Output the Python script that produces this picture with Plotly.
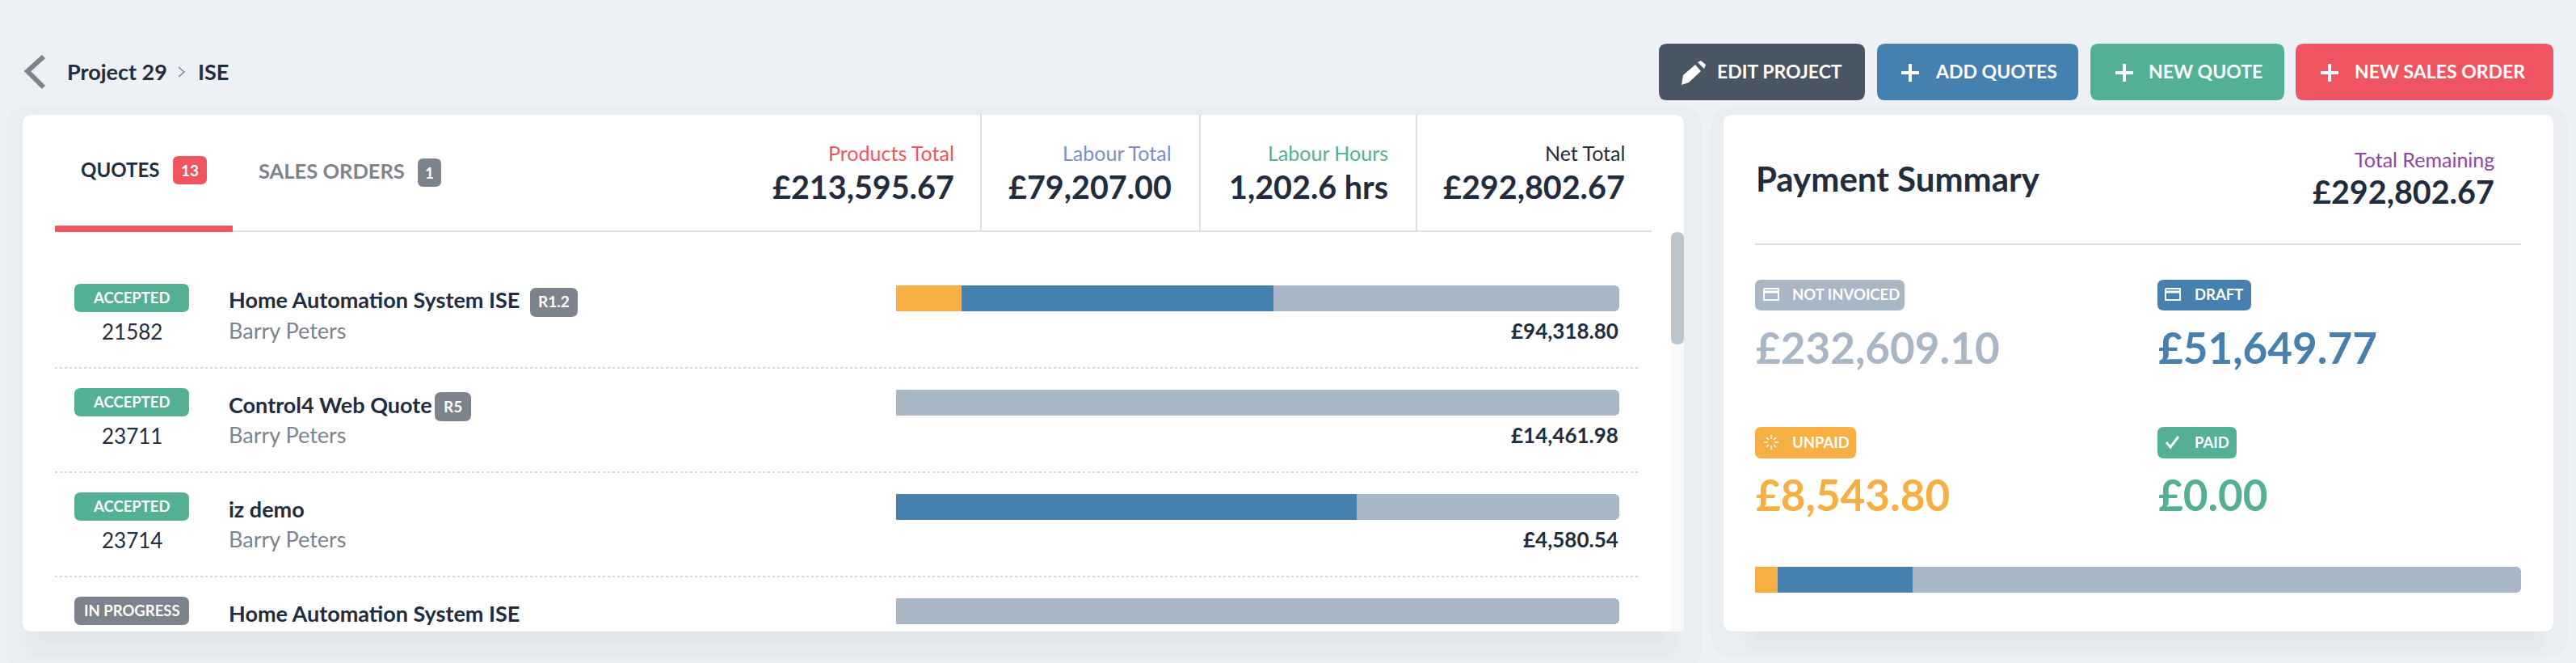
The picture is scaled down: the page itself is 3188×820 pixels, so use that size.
import plotly.graph_objects as go

# -----------------------------------------------------------------------------
#
# Values
#
# -----------------------------------------------------------------------------
status_labels = ['ACCEPTED', 'ACCEPTED', 'ACCEPTED', 'IN PROGRESS']
quote_numbers = ['21582', '23711', '23714', '']
quote_titles = ['Home Automation System ISE', 'Control4 Web Quote', 'iz demo', 'Home Automation System ISE']
quote_authors = ['Barry Peters', 'Barry Peters', 'Barry Peters', '']
quote_revisions = ['R1.2', 'R5', '', '']
quote_amounts = ['£94,318.80', '£14,461.98', '£4,580.54', '']

# share of each quote, percent
unpaid_share = [9.1, None, None, None]
draft_share = [43.1, None, 63.7, None]
not_invoiced_share = [47.8, 100, 36.3, 100]

summary_names = ['UNPAID', 'DRAFT', 'NOT INVOICED', 'PAID']
summary_values = [8543.80, 51649.77, 232609.10, 0.00]
total_remaining = 292802.67

header_labels = ['Products Total', 'Labour Total', 'Labour Hours', 'Net Total']
header_values = ['£213,595.67', '£79,207.00', '1,202.6 hrs', '£292,802.67']
button_labels = ['EDIT PROJECT', 'ADD QUOTES', 'NEW QUOTE', 'NEW SALES ORDER']

# -----------------------------------------------------------------------------
#
# Page geometry and colours
#
# -----------------------------------------------------------------------------
W, H = 3188, 820
FONT = 'Lato'
INK = '#212d3f'
GREY = '#7d838c'
RED = '#ef5560'
BLUE = '#4680ae'
GREEN = '#54b095'
ORANGE = '#f7ae42'
SLATE = '#a9b6c6'
LINE = '#dcdee0'

ROW_TOP, ROW_PITCH, BAR_H = 369, 129, 32
ROW_X0, ROW_X1 = 1109, 2004
SUM_X0, SUM_X1, SUM_Y0, SUM_Y1 = 2172, 3120, 701, 733


def px(x):
    return x / W


def py(y):
    return 1 - y / H


shapes = []
annotations = []


def rrect(x0, y0, x1, y1, r, color, line=None):
    k = r
    p = (f'M {px(x0 + k)} {py(y0)} L {px(x1 - k)} {py(y0)} Q {px(x1)} {py(y0)} {px(x1)} {py(y0 + k)} '
         f'L {px(x1)} {py(y1 - k)} Q {px(x1)} {py(y1)} {px(x1 - k)} {py(y1)} '
         f'L {px(x0 + k)} {py(y1)} Q {px(x0)} {py(y1)} {px(x0)} {py(y1 - k)} '
         f'L {px(x0)} {py(y0 + k)} Q {px(x0)} {py(y0)} {px(x0 + k)} {py(y0)} Z')
    shapes.append(dict(type='path', path=p, xref='paper', yref='paper', fillcolor=color,
                       line=dict(width=0) if line is None else line, layer='below'))


def stroke(points, color, width=2, dash='solid'):
    p = 'M ' + ' L '.join(f'{px(x)} {py(y)}' for x, y in points)
    shapes.append(dict(type='path', path=p, xref='paper', yref='paper',
                       line=dict(color=color, width=width, dash=dash), layer='below'))


def polygon(points, color):
    p = 'M ' + ' L '.join(f'{px(x)} {py(y)}' for x, y in points) + ' Z'
    shapes.append(dict(type='path', path=p, xref='paper', yref='paper', fillcolor=color,
                       line=dict(width=0), layer='below'))


def text(x, y, s, size, color, anchor='left', bold=False):
    # Lato sits a little low in its line box
    annotations.append(dict(x=px(x), y=py(y - 2), xref='paper', yref='paper', text=f'<b>{s}</b>' if bold else s,
                            showarrow=False, xanchor=anchor, yanchor='middle', borderpad=0,
                            font=dict(family=FONT, size=size, color=color)))


# -----------------------------------------------------------------------------
#
# Cards and their soft shadows
#
# -----------------------------------------------------------------------------
rrect(7, 131, 2106, 830, 30, '#e9edf1')
rrect(2117, 131, 3178, 813, 30, '#e9edf1')
rrect(30, 770, 2075, 812, 20, '#e6eaee')
rrect(2159, 770, 3150, 806, 20, '#e6eaee')
rrect(45, 770, 2062, 795, 12, '#e3e7eb')
rrect(2170, 770, 3140, 793, 12, '#e3e7eb')
rrect(28, 142, 2084, 781, 12, '#ffffff')
rrect(2133, 142, 3160, 781, 12, '#ffffff')

# -----------------------------------------------------------------------------
#
# Breadcrumb and buttons
#
# -----------------------------------------------------------------------------
stroke([(54, 70), (34, 88), (54, 108)], GREY, 6)
text(82, 91, 'Project 29', 27, INK, bold=True)
stroke([(221, 83), (228, 89), (221, 95)], GREY, 1.5)
text(244, 91, 'ISE', 27, INK, bold=True)

button_boxes = [(2053, 2308, '#4a5563'), (2323, 2572, BLUE), (2587, 2827, GREEN), (2841, 3160, RED)]
button_text_x = [2124, 2394, 2658, 2913]
plus_x = [None, 2364, 2629, 2883]
for (x0, x1, c), label, tx, plus in zip(button_boxes, button_labels, button_text_x, plus_x):
    rrect(x0, 54, x1, 124, 10, c)
    text(tx, 90, label, 23, '#ffffff', bold=True)
    if plus:
        stroke([(plus - 11, 90), (plus + 11, 90)], '#ffffff', 4)
        stroke([(plus, 79), (plus, 101)], '#ffffff', 4)
# pencil, filled body with a small gap before the cap
polygon([(2081, 105), (2083, 93), (2098, 80), (2105, 88), (2090, 102)], '#ffffff')
polygon([(2101, 77), (2105, 75), (2111, 80), (2109, 85)], '#ffffff')

# -----------------------------------------------------------------------------
#
# Quotes card: tabs and totals
#
# -----------------------------------------------------------------------------
stroke([(68, 286), (2044, 286)], LINE, 2)
rrect(68, 279, 288, 287, 1, RED)
text(99, 211, 'QUOTES', 24, INK, bold=True)
rrect(214, 193, 256, 228, 7, RED)
text(235, 212, '13', 19, '#ffffff', 'center', bold=True)
text(319, 213, 'SALES ORDERS', 25.5, GREY, bold=True)
rrect(517, 196, 546, 231, 7, GREY)
text(531.5, 215, '1', 19, '#ffffff', 'center', bold=True)

for x in [1214, 1485, 1753]:
    stroke([(x, 142), (x, 286)], LINE, 2)
header_right = [1182, 1451, 1719, 2012]
header_colors = [RED, '#7b8fc7', GREEN, INK]
for xr, label, value, c in zip(header_right, header_labels, header_values, header_colors):
    text(xr, 191, label, 25, c, 'right')
    text(xr, 232, value, 39.5, INK, 'right', bold=True)

# scrollbar
rrect(2068, 287, 2084, 781, 1, '#f8f8f8')
rrect(2068, 287, 2084, 426, 8, '#bcc5cc')

# -----------------------------------------------------------------------------
#
# Quote rows
#
# -----------------------------------------------------------------------------
status_colors = [GREEN, GREEN, GREEN, GREY]
rev_boxes = [(656, 715), (538, 583)]
for i in range(4):
    top = ROW_TOP + i * ROW_PITCH
    rrect(92, top - 18, 234, top + 17, 8, status_colors[i])
    text(163, top + 1, status_labels[i], 18.5, '#ffffff', 'center', bold=True)
    text(282, top + 4, quote_titles[i], 27, INK, bold=True)
    if quote_numbers[i]:
        text(163, top + 43, quote_numbers[i], 26, INK, 'center')
        text(282, top + 41, quote_authors[i], 27, GREY)
        text(2004, top + 42, quote_amounts[i], 26, INK, 'right', bold=True)
    if quote_revisions[i]:
        x0, x1 = rev_boxes[i]
        rrect(x0, top - 13, x1, top + 23, 8, GREY)
        text((x0 + x1) / 2, top + 6, quote_revisions[i], 19, '#ffffff', 'center', bold=True)
    if i < 3:
        stroke([(68, top + 86), (2028, top + 86)], '#d5d7da', 2, 'dot')

# -----------------------------------------------------------------------------
#
# Payment summary card
#
# -----------------------------------------------------------------------------
text(2172, 223, 'Payment Summary', 42, INK, bold=True)
text(3088, 199, 'Total Remaining', 25, '#8e44a4', 'right')
text(3088, 238, f'£{total_remaining:,.2f}', 39.5, INK, 'right', bold=True)
stroke([(2172, 302), (3120, 302)], LINE, 2)

summary_colors = {'UNPAID': ORANGE, 'DRAFT': BLUE, 'NOT INVOICED': SLATE, 'PAID': GREEN}
pill_boxes = {'NOT INVOICED': (2172, 2357, 346, 384), 'DRAFT': (2670, 2786, 346, 384),
              'UNPAID': (2172, 2297, 528, 567), 'PAID': (2670, 2768, 528, 567)}
for name, value in zip(summary_names, summary_values):
    x0, x1, y0, y1 = pill_boxes[name]
    c = summary_colors[name]
    rrect(x0, y0, x1, y1, 8, c)
    text(x0 + 45, (y0 + y1) / 2 + 1, name, 18.5, '#ffffff', bold=True)
    text(x0, y0 + 85, f'£{value:,.2f}', 53, c, bold=True)

# card icons
for x0 in [2183, 2680]:
    stroke([(x0, 357), (x0 + 18, 357), (x0 + 18, 371), (x0, 371), (x0, 357)], '#ffffff', 2)
    stroke([(x0, 361), (x0 + 18, 361)], '#ffffff', 3)
# spinner
for a, b in [((2192, 538), (2192, 543)), ((2192, 551), (2192, 556)), ((2183, 547), (2188, 547)),
             ((2196, 547), (2201, 547)), ((2186, 541), (2189, 544)), ((2195, 550), (2198, 553)),
             ((2186, 553), (2189, 550)), ((2195, 544), (2198, 541))]:
    stroke([a, b], '#ffffff', 1.5)
# tick
stroke([(2681, 547), (2686, 553), (2696, 540)], '#ffffff', 3)

# -----------------------------------------------------------------------------
#
# The stacked bars themselves
#
# -----------------------------------------------------------------------------
rows = list(range(4))
fig = go.Figure()
for vals, c in [(unpaid_share, ORANGE), (draft_share, BLUE), (not_invoiced_share, SLATE)]:
    fig.add_trace(go.Bar(x=vals, y=rows, orientation='h', marker=dict(color=c, line=dict(width=0)),
                         width=BAR_H / ROW_PITCH, xaxis='x', yaxis='y', showlegend=False))
for name in ['UNPAID', 'DRAFT', 'NOT INVOICED']:
    fig.add_trace(go.Bar(x=[summary_values[summary_names.index(name)]], y=[0], orientation='h',
                         marker=dict(color=summary_colors[name], line=dict(width=0)),
                         width=1, xaxis='x2', yaxis='y2', showlegend=False))

# row 0 centre sits on ROW_TOP, so the axis range maps one unit to ROW_PITCH pixels
y_low, y_high = -0.5, 3.3
fig.update_layout(
    width=W, height=H, margin=dict(l=0, r=0, t=0, b=0),
    paper_bgcolor='#edf0f5', plot_bgcolor='rgba(0,0,0,0)',
    barmode='stack', barcornerradius=6,
    xaxis=dict(domain=[px(ROW_X0), px(ROW_X1)], range=[0, 100], visible=False),
    yaxis=dict(domain=[py(ROW_TOP + y_high * ROW_PITCH), py(ROW_TOP + y_low * ROW_PITCH)],
               range=[y_high, y_low], visible=False),
    xaxis2=dict(domain=[px(SUM_X0), px(SUM_X1)], range=[0, total_remaining], visible=False, anchor='y2'),
    yaxis2=dict(domain=[py(SUM_Y1), py(SUM_Y0)], range=[-0.5, 0.5], visible=False, anchor='x2'),
    shapes=shapes, annotations=annotations,
)

fig.write_html('out.html', config={'displayModeBar': False},
               post_script="document.body.style.margin='0';document.body.style.overflow='hidden';")
